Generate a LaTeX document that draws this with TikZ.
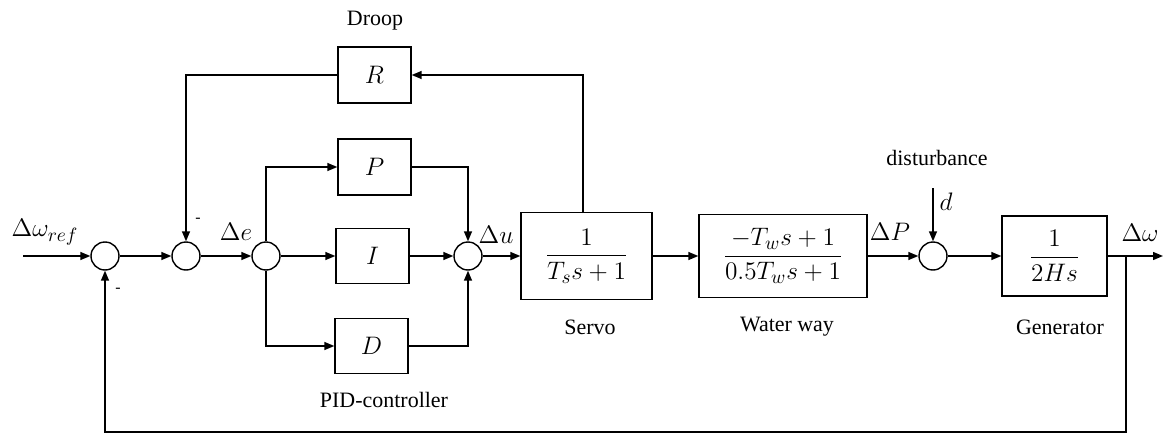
\documentclass[tikz,border=0pt]{standalone}
\usepackage{amsmath}
\usepackage{fontspec}
\setmainfont{Liberation Serif}
\usetikzlibrary{arrows.meta,positioning,calc}

\begin{document}
\begin{tikzpicture}[
    x=0.02cm,y=-0.02cm,
    blk/.style     = {draw, line width=0.8pt, inner sep=2pt,
                      font=\fontsize{15}{18}\selectfont},
    somme/.style   = {circle, draw, line width=0.8pt, minimum size=0.56cm,
                      inner sep=0pt},
    sig/.style     = {line width=0.8pt, -{Triangle[length=0.2cm,width=0.16cm]}},
    nom/.style     = {font=\rmfamily\fontsize{12.5}{15}\selectfont},
    var/.style     = {font=\fontsize{15}{18}\selectfont},
    moins/.style   = {font=\small},
  ]

  \useasboundingbox (0,0) rectangle (1164,433);

  % ── Sommateurs ──────────────────────────────────────────────────────────
  \node[somme] (s1) at (105,256) {};
  \node[somme] (s2) at (186,256) {};
  \node[somme] (s3) at (266,256) {};
  \node[somme] (s4) at (468,256) {};
  \node[somme] (s5) at (933,256) {};

  % ── Blocs ───────────────────────────────────────────────────────────────
  \node[blk, minimum width=1.46cm, minimum height=1.12cm] (R) at (374.5,75) {$R$};
  \node[blk, minimum width=1.46cm, minimum height=1.12cm] (P) at (374.5,167) {$P$};
  \node[blk, minimum width=1.46cm, minimum height=1.1cm]  (I) at (372.5,256) {$I$};
  \node[blk, minimum width=1.46cm, minimum height=1.1cm]  (D) at (371.5,346) {$D$};

  \node[blk, minimum width=2.62cm, minimum height=1.74cm] (servo) at (586.5,256)
       {$\dfrac{1}{T_s s+1}$};
  \node[blk, minimum width=3.36cm, minimum height=1.66cm] (eau) at (783,256)
       {$\dfrac{-T_w s+1}{0.5T_w s+1}$};
  \node[blk, minimum width=2.1cm, minimum height=1.6cm]   (gen) at (1054.5,256)
       {$\dfrac{1}{2Hs}$};

  % ── Libellés ────────────────────────────────────────────────────────────
  \node[nom] (lDroop) at (375,21)  {Droop};
  \node[nom] (lPID)   at (384,400) {PID-controller};
  \node[nom] (lServo) at (590,327) {Servo};
  \node[nom] (lEau)   at (787,327) {Water way};
  \node[nom] (lGen)   at (1060,327) {Generator};
  \node[nom] (lDist)  at (937,158) {disturbance};

  \node[var] (lref) at (45,232)   {$\Delta\omega_{ref}$};
  \node[var] (le)   at (236,232)  {$\Delta e$};
  \node[var] (lu)   at (496,235)  {$\Delta u$};
  \node[var] (lP)   at (890,232)  {$\Delta P$};
  \node[var] (lw)   at (1140,233) {$\Delta\omega$};
  \node[var] (ld)   at (946,202)  {$d$};

  \node[moins] (m2) at (198,220) {-};
  \node[moins] (m1) at (118,290) {-};

  % ── Points libres ───────────────────────────────────────────────────────
  \coordinate (entree) at (23,256);
  \coordinate (sortie) at (1163,256);
  \coordinate (branche) at (1126,256);
  \coordinate (retour) at (1126,432);
  \coordinate (dhaut) at (933,188);
  \coordinate (servohaut) at (583,213);

  % ── Chaîne directe ──────────────────────────────────────────────────────
  \draw[sig] (entree) -- (s1);
  \draw[sig] (s1) -- (s2);
  \draw[sig] (s2) -- (s3);
  \draw[sig] (s3) |- (P);
  \draw[sig] (s3) -- (I);
  \draw[sig] (s3) |- (D);
  \draw[sig] (P) -| (s4);
  \draw[sig] (I) -- (s4);
  \draw[sig] (D) -| (s4);
  \draw[sig] (s4) -- (servo);
  \draw[sig] (servo) -- (eau);
  \draw[sig] (eau) -- (s5);
  \draw[sig] (s5) -- (gen);
  \draw[sig] (gen) -- (sortie);
  \draw[sig] (dhaut) -- (s5);

  % ── Boucles de retour ───────────────────────────────────────────────────
  \draw[sig] (servohaut) |- (R);
  \draw[sig] (R) -| (s2);
  \draw[sig] (branche) -- (retour) -| (s1);

\end{tikzpicture}
\end{document}
